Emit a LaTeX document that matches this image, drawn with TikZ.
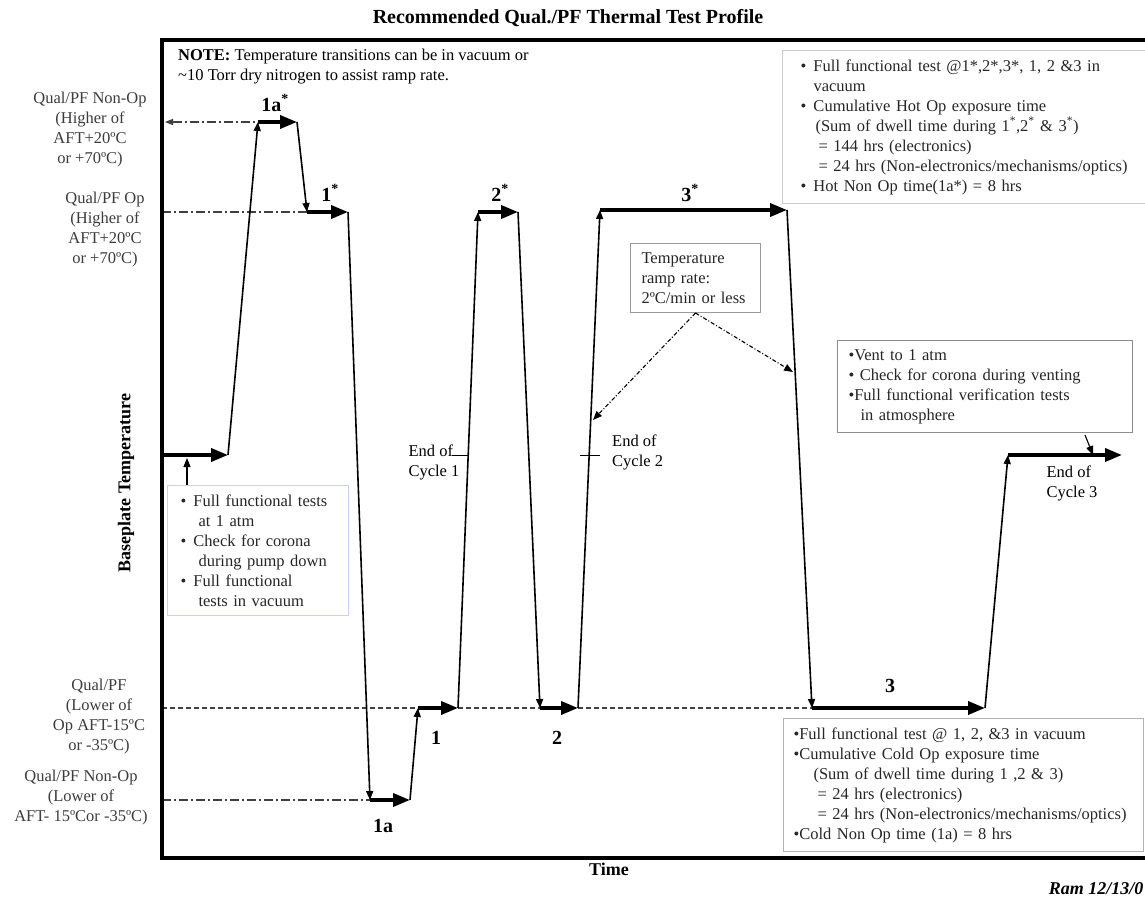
\documentclass[tikz,border=0pt]{standalone}
\usepackage{fontspec}
\setmainfont{Liberation Serif}
\usetikzlibrary{arrows.meta}
\tikzset{>=Stealth}
\definecolor{cLabel}{RGB}{60,60,60}
\definecolor{cLilac}{RGB}{205,205,255}
\newcommand{\bitem}{\makebox[13pt][l]{\textbullet}}

\begin{document}
\begin{tikzpicture}[x=1pt, y=-1pt, font=\fontsize{16.5}{20}\selectfont]

% Stiler.
\tikzset{
  frame/.style={line width=3.4pt},
  dwell/.style={line width=3.6pt, -{Triangle[length=17pt,width=13pt]}},
  ramp/.style={line width=1.6pt, -{Triangle[length=9pt,width=7pt]}},
  level/.style={line width=1.1pt, black!75, dash pattern=on 9pt off 3pt on 2pt off 3pt},
  coldline/.style={line width=1.1pt, black!75, dash pattern=on 5pt off 3pt},
  lvltxt/.style={text=cLabel, align=center, inner sep=0pt},
  numlbl/.style={font=\fontsize{20}{24}\selectfont\bfseries},
  infobox/.style={draw=black!40, line width=1pt, align=left, anchor=north west,
                  inner ysep=9pt, text=black!85},
  pointer/.style={line width=1.1pt, -{Triangle[length=9pt,width=7pt]}},
  dotptr/.style={pointer, dash pattern=on 4pt off 2pt on 1pt off 2pt},
  tick/.style={line width=1pt}
}

% Flate.
\useasboundingbox (0,0) rectangle (1145,901);
\fill[white] (0,0) rectangle (1145,901);

% Punkter i profilen.
\foreach \n/\x/\y in {p0/162/455, p1/228/455, p2/258/122, p3/297/122,
                      p4/307/212, p5/348/212, p6/370/800, p7/410/800,
                      p8/418/708, p9/458/708, p10/478/212, p11/518/212,
                      p12/540/708, p13/578/708, p14/600/210, p15/787/210,
                      p16/812/708, p17/985/708, p18/1008/455, p19/1122/455}{
  \coordinate (\n) at (\x,\y);
}
\coordinate (hnL) at (165,122);
\coordinate (hoL) at (162,212);
\coordinate (ocL) at (162,708);
\coordinate (ncL) at (162,800);

% Nivaalinjer.
\draw[level, {Triangle[length=8pt,width=6pt]}-] (hnL) -- (p2);
\draw[level] (hoL) -- (p4);
\draw[coldline] (ocL) -- (p16);
\draw[level] (ncL) -- (p6);

% Ramme.
\draw[frame] (162,40) rectangle (1150,858);

% Profil.
\foreach \a/\b in {p0/p1, p2/p3, p4/p5, p6/p7, p8/p9,
                   p10/p11, p12/p13, p14/p15, p16/p17, p18/p19}{
  \draw[dwell] (\a) -- (\b);
}
\foreach \a/\b in {p1/p2, p3/p4, p5/p6, p7/p8, p9/p10,
                   p11/p12, p13/p14, p15/p16, p17/p18}{
  \draw[ramp] (\a) -- (\b);
}

% Tittel og akser.
\node (title) [font=\fontsize{20}{24}\selectfont\bfseries] at (568,18) {Recommended Qual./PF Thermal Test Profile};
\node (ylab) [rotate=90, font=\fontsize{18}{22}\selectfont\bfseries] at (126,483) {Baseplate Temperature};
\node (xlab) [font=\fontsize{18}{22}\selectfont\bfseries] at (609,869) {Time};
\node (sign) [anchor=east, font=\fontsize{18}{22}\selectfont\bfseries\itshape] at (1147,889) {Ram 12/13/0};

% Nivaatekster.
\node (lvlnh) [lvltxt] at (90,130) {Qual/PF Non-Op\\(Higher of\\AFT+20ºC\\or +70ºC)};
\node (lvloh) [lvltxt] at (105,230) {Qual/PF Op\\(Higher of\\AFT+20ºC\\or +70ºC)};
\node (lvloc) [lvltxt] at (99,717) {Qual/PF\\(Lower of\\Op AFT-15ºC\\or -35ºC)};
\node (lvlnc) [lvltxt] at (81,798) {Qual/PF Non-Op\\(Lower of\\AFT- 15ºCor -35ºC)};

% Merker paa profilen.
\node (d1as) [numlbl] at (275,103) {1a\textsuperscript{*}};
\node (d1s)  [numlbl] at (330,193) {1\textsuperscript{*}};
\node (d2s)  [numlbl] at (500,193) {2\textsuperscript{*}};
\node (d3s)  [numlbl] at (690,193) {3\textsuperscript{*}};
\node (d1)   [numlbl] at (436,738) {1};
\node (d2)   [numlbl] at (557,738) {2};
\node (d3)   [numlbl] at (890,686) {3};
\node (d1a)  [numlbl] at (383,826) {1a};

% Slutt paa syklus.
\coordinate (c1a) at (452,455);
\coordinate (c1b) at (468,455);
\coordinate (c2a) at (580,455);
\coordinate (c2b) at (600,455);
\draw[tick] (c1a) -- (c1b);
\draw[tick] (c2a) -- (c2b);
\node (end1) [align=left, inner sep=0pt] at (434,462) {End of\\Cycle 1};
\node (end2) [align=left, inner sep=0pt, anchor=west] at (612,452) {End of\\Cycle 2};
\node (end3) [align=left, inner sep=0pt] at (1072,483) {End of\\Cycle 3};

% Merknad.
\node (note) [anchor=north west, align=left, inner sep=0pt] at (178,49)
  {\textbf{NOTE:} Temperature transitions can be in vacuum or\\\textasciitilde10 Torr dry nitrogen to assist ramp rate.};

% Bokser.
\node (hotbox) [infobox, draw=black!20, inner xsep=18pt, text width=330pt] at (782,50) {%
\bitem Full functional test @1*,2*,3*, 1, 2 \&3 in\\
\hspace*{13pt}vacuum\\
\bitem Cumulative Hot Op exposure time\\
\hspace*{15pt}(Sum of dwell time during 1\textsuperscript{*},2\textsuperscript{*} \& 3\textsuperscript{*})\\
\hspace*{18pt}= 144 hrs (electronics)\\
\hspace*{18pt}= 24 hrs (Non-electronics/mechanisms/optics)\\
\bitem Hot Non Op time(1a*) = 8 hrs};

\node (rampbox) [infobox, inner xsep=11pt, text width=108pt] at (630,243) {%
Temperature\\ramp rate:\\2ºC/min or less};

\node (ventbox) [infobox, draw=black!45, inner xsep=11pt, text width=273pt] at (837,340) {%
\textbullet Vent to 1 atm\\
\textbullet{} Check for corona during venting\\
\textbullet Full functional verification tests\\
\hspace*{12pt}in atmosphere};

\node (coldbox) [infobox, draw=black!30, inner xsep=10pt, text width=340pt] at (783,718) {%
\textbullet Full functional test @ 1, 2, \&3 in vacuum\\
\textbullet Cumulative Cold Op exposure time\\
\hspace*{20pt}(Sum of dwell time during 1 ,2 \& 3)\\
\hspace*{24pt}= 24 hrs (electronics)\\
\hspace*{24pt}= 24 hrs (Non-electronics/mechanisms/optics)\\
\textbullet Cold Non Op time (1a) = 8 hrs};

\node (startbox) [infobox, draw=cLilac, inner xsep=13pt, text width=155pt] at (167,485) {%
\bitem Full functional tests\\
\hspace*{18pt}at 1 atm\\
\bitem Check for corona\\
\hspace*{18pt}during pump down\\
\bitem Full functional\\
\hspace*{18pt}tests in vacuum};

% Piler fra boksene.
\coordinate (sfoot) at (187,485);
\coordinate (stip) at (187,458);
\coordinate (rtip2) at (593,420);
\coordinate (rtip3) at (793,372);
\coordinate (vfoot) at (1085,435);
\coordinate (vtip) at (1093,455);
\draw[pointer] (sfoot) -- (stip);
\draw[dotptr] (rampbox.south) -- (rtip2);
\draw[dotptr] (rampbox.south) -- (rtip3);
\draw[pointer] (vfoot) -- (vtip);
\end{tikzpicture}
\end{document}
